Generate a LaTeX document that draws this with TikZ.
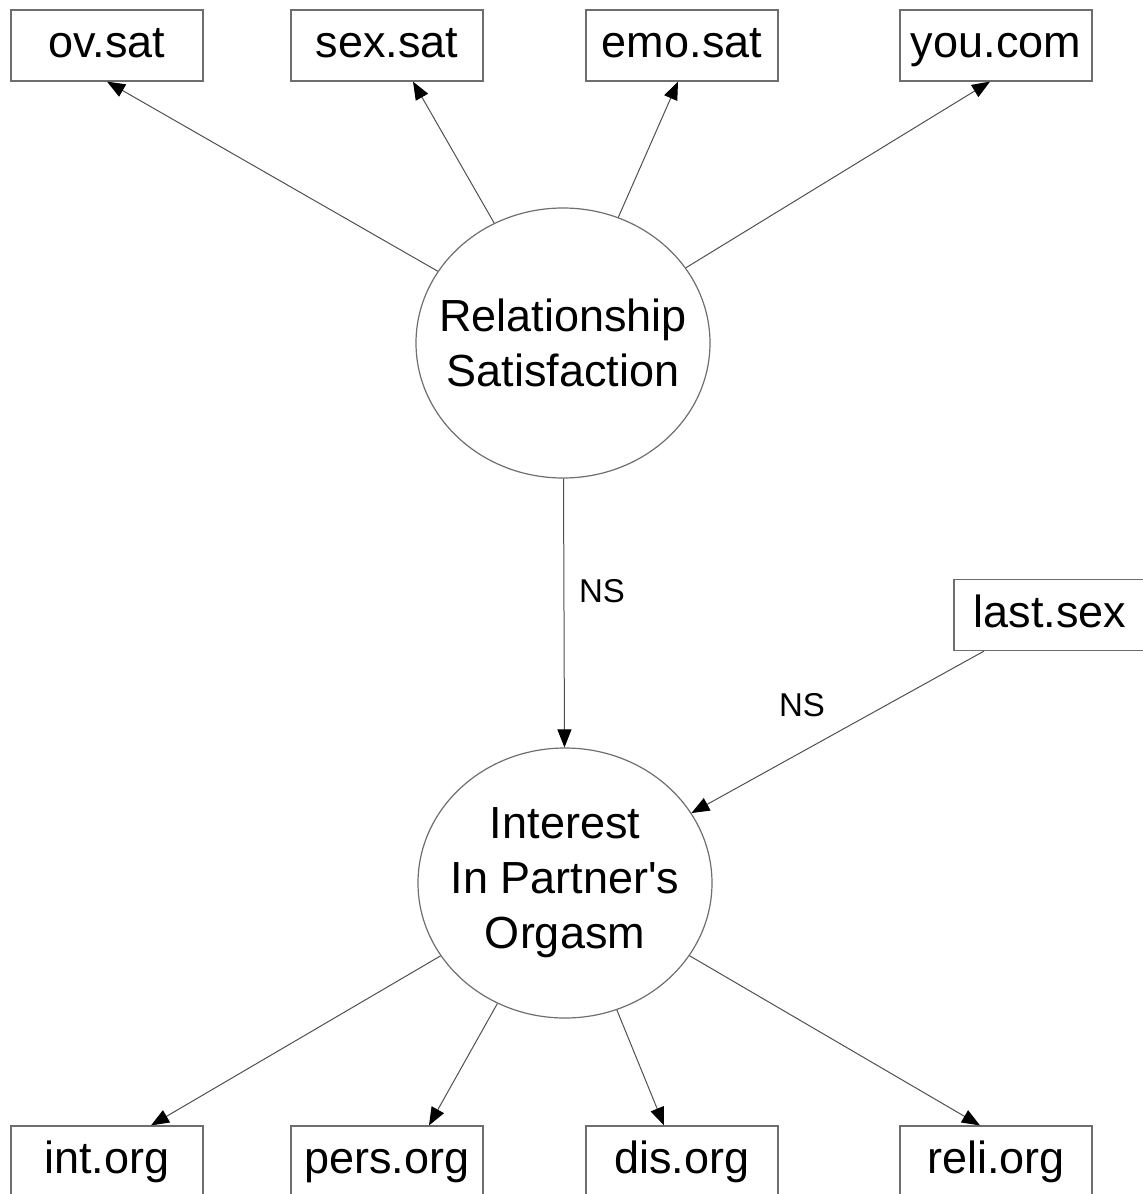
\documentclass[tikz,border=0pt]{standalone}
\usepackage{fontspec}
\setmainfont{Liberation Sans}
\usetikzlibrary{arrows.meta,shapes.geometric}
\definecolor{edge}{HTML}{505050}
\definecolor{frame}{HTML}{6e6e6e}

\begin{document}
\begin{tikzpicture}[x=0.5pt,y=-0.5pt,
    obs/.style={draw=frame, line width=0.6pt, minimum width=96pt, minimum height=35.5pt, inner sep=0pt, text height=16pt, text depth=4pt, font=\fontsize{22.5}{27.5}\selectfont},
    lat/.style={ellipse, draw=frame, line width=0.6pt, minimum width=147pt, minimum height=135pt, inner ysep=0pt, inner xsep=-12pt, align=center, font=\fontsize{22.5}{27.5}\selectfont},
    load/.style={draw=edge, line width=0.5pt, -{Triangle[length=9pt,width=7pt,color=black]}},
    ns/.style={font=\fontsize{16.5}{20}\selectfont}]
        \useasboundingbox (0,0) rectangle (1143,1194);
        % latent variables
        \node[lat] (rs) at (563,343) {Relationship\\Satisfaction};
        \node[lat] (ip) at (565,883) {Interest\\In Partner\textquotesingle s\\Orgasm};
        % indicators
        \node[obs] (ovsat) at (107,45.5) {ov.sat};
        \node[obs] (sexsat) at (387,45.5) {sex.sat};
        \node[obs] (emosat) at (682,45.5) {emo.sat};
        \node[obs] (youcom) at (996,45.5) {you.com};
        \node[obs] (lastsex) at (1050,615) {last.sex};
        \node[obs] (intorg) at (107,1161.5) {int.org};
        \node[obs] (persorg) at (387,1161.5) {pers.org};
        \node[obs] (disorg) at (682,1161.5) {dis.org};
        \node[obs] (reliorg) at (996,1161.5) {reli.org};
        % loadings
        \draw[load] (rs) -- (ovsat.south);
        \draw[load] (rs) -- ([xshift=13pt]sexsat.south);
        \draw[load] (rs) -- ([xshift=-2pt]emosat.south);
        \draw[load] (rs) -- ([xshift=-3pt]youcom.south);
        \draw[load] (ip) -- ([xshift=22pt]intorg.north);
        \draw[load] (ip) -- ([xshift=21pt]persorg.north);
        \draw[load] (ip) -- ([xshift=-9pt]disorg.north);
        \draw[load] (ip) -- ([xshift=-8pt]reliorg.north);
        % regressions
        \draw[load] (rs) -- (ip);
        \draw[load] ([xshift=-33pt]lastsex.south) -- (ip);
        \node[ns] (nsa) at (602,591) {NS};
        \node[ns] (nsb) at (802,705) {NS};
    \end{tikzpicture}
\end{document}
